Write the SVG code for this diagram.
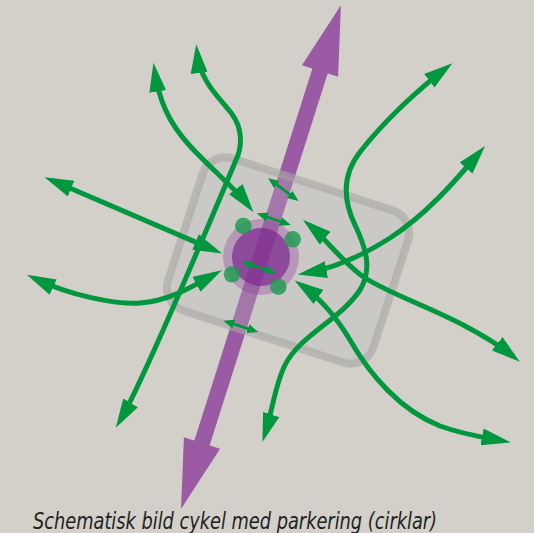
<svg xmlns="http://www.w3.org/2000/svg" width="534" height="533" viewBox="0 0 534 533">
<defs>
<style>
.g{fill:none;stroke:#00973f;stroke-width:5;marker-start:url(#ah);marker-end:url(#ah)}
.s{fill:none;stroke:#00973f;stroke-width:2.8;marker-start:url(#as);marker-end:url(#as)}
.dot{fill:#1a9a4e;fill-opacity:0.8}
.cap{font-family:"Liberation Sans Narrow","DejaVu Sans Condensed","Open Sans",sans-serif;font-style:italic;font-size:23px;fill:#222222}
</style>
<marker id="ah" markerUnits="userSpaceOnUse" markerWidth="29" markerHeight="17" viewBox="0 0 29 17" refX="20.5" refY="8.5" orient="auto-start-reverse"><path d="M0,0 L29,8.5 L0,17 z" fill="#00973f"/></marker>
<marker id="as" markerUnits="userSpaceOnUse" markerWidth="11" markerHeight="9" viewBox="0 0 11 9" refX="7" refY="4.5" orient="auto-start-reverse"><path d="M0,0 L11,4.5 L0,9 z" fill="#00973f"/></marker>
</defs>
<rect width="534" height="533" fill="#d3d0ca"/>
<g id="bike-route">
<line x1="320.5" y1="69.5" x2="201.5" y2="444.5" stroke="#9b5ba4" stroke-width="16"/>
<polygon points="340.9,5.3 338.1,76.7 301.9,65.3" fill="#9b5ba4"/>
<polygon points="181,509 183.9,437.3 220.1,448.7" fill="#9b5ba4"/>
</g>
<g id="parking-area">
<rect x="-108" y="-80" width="216" height="160" rx="24" transform="translate(288,260.5) rotate(18)" fill="#b9b9b9" fill-opacity="0.3" stroke="#a9a7a4" stroke-opacity="0.6" stroke-width="8"/>
</g>
<g id="hub">
<circle cx="261" cy="257" r="38" fill="#8e3f9b" fill-opacity="0.35"/>
<circle cx="261" cy="257" r="29" fill="#7d2a8f" fill-opacity="0.72"/>
</g>
<g id="parking-circles">
<circle class="dot" cx="243.3" cy="226" r="8.3"/>
<circle class="dot" cx="292.7" cy="239.3" r="8.3"/>
<circle class="dot" cx="232" cy="274.3" r="8.3"/>
<circle class="dot" cx="278.3" cy="286.7" r="8.3"/>
</g>
<g id="connectors">
<path class="g" d="M154.7,71.2 C159,100 168,122 190,146 C210,168 235,188 248.3,205.4"/>
<path class="g" d="M197.1,52.7 C200,82 220,98 232,114 C242,128 243,145 236,160 C215,210 140.6,386 120.1,420.4"/>
<path class="g" d="M52.3,180.5 L214.3,250.1"/>
<path class="g" d="M34.6,278.4 C70,295 115,305 140,303 C170,301 195,285 214.4,274.4"/>
<path class="g" d="M445.6,68.4 C420,88 385,120 360,152 C342,175 343,200 355,225 C367,250 372,270 360,290 C340,320 300,335 285,365 C275,385 272,412 265,434"/>
<path class="g" d="M479.5,152.5 C460,175 430,212 390,238 C365,254 335,268 306.2,273.1"/>
<path class="g" d="M309.5,225.1 C325,238 345,265 365,278 C400,300 465,318 513.2,356.5"/>
<path class="g" d="M301.6,285.3 C320,298 335,315 350,340 C370,375 400,410 440,426 C465,435 485,437.5 502.2,440.8"/>
<path class="s" d="M271.2,180.4 L295.3,198.6"/>
<path class="s" d="M260.5,214.6 L286.9,223.7"/>
<path class="s" d="M245.5,263 L272.2,272"/>
<path class="s" d="M227.1,321.9 L254.5,330.8"/>
</g>
<text class="cap" x="33" y="528.5" textLength="404" lengthAdjust="spacingAndGlyphs">Schematisk bild cykel med parkering (cirklar)</text>
</svg>
